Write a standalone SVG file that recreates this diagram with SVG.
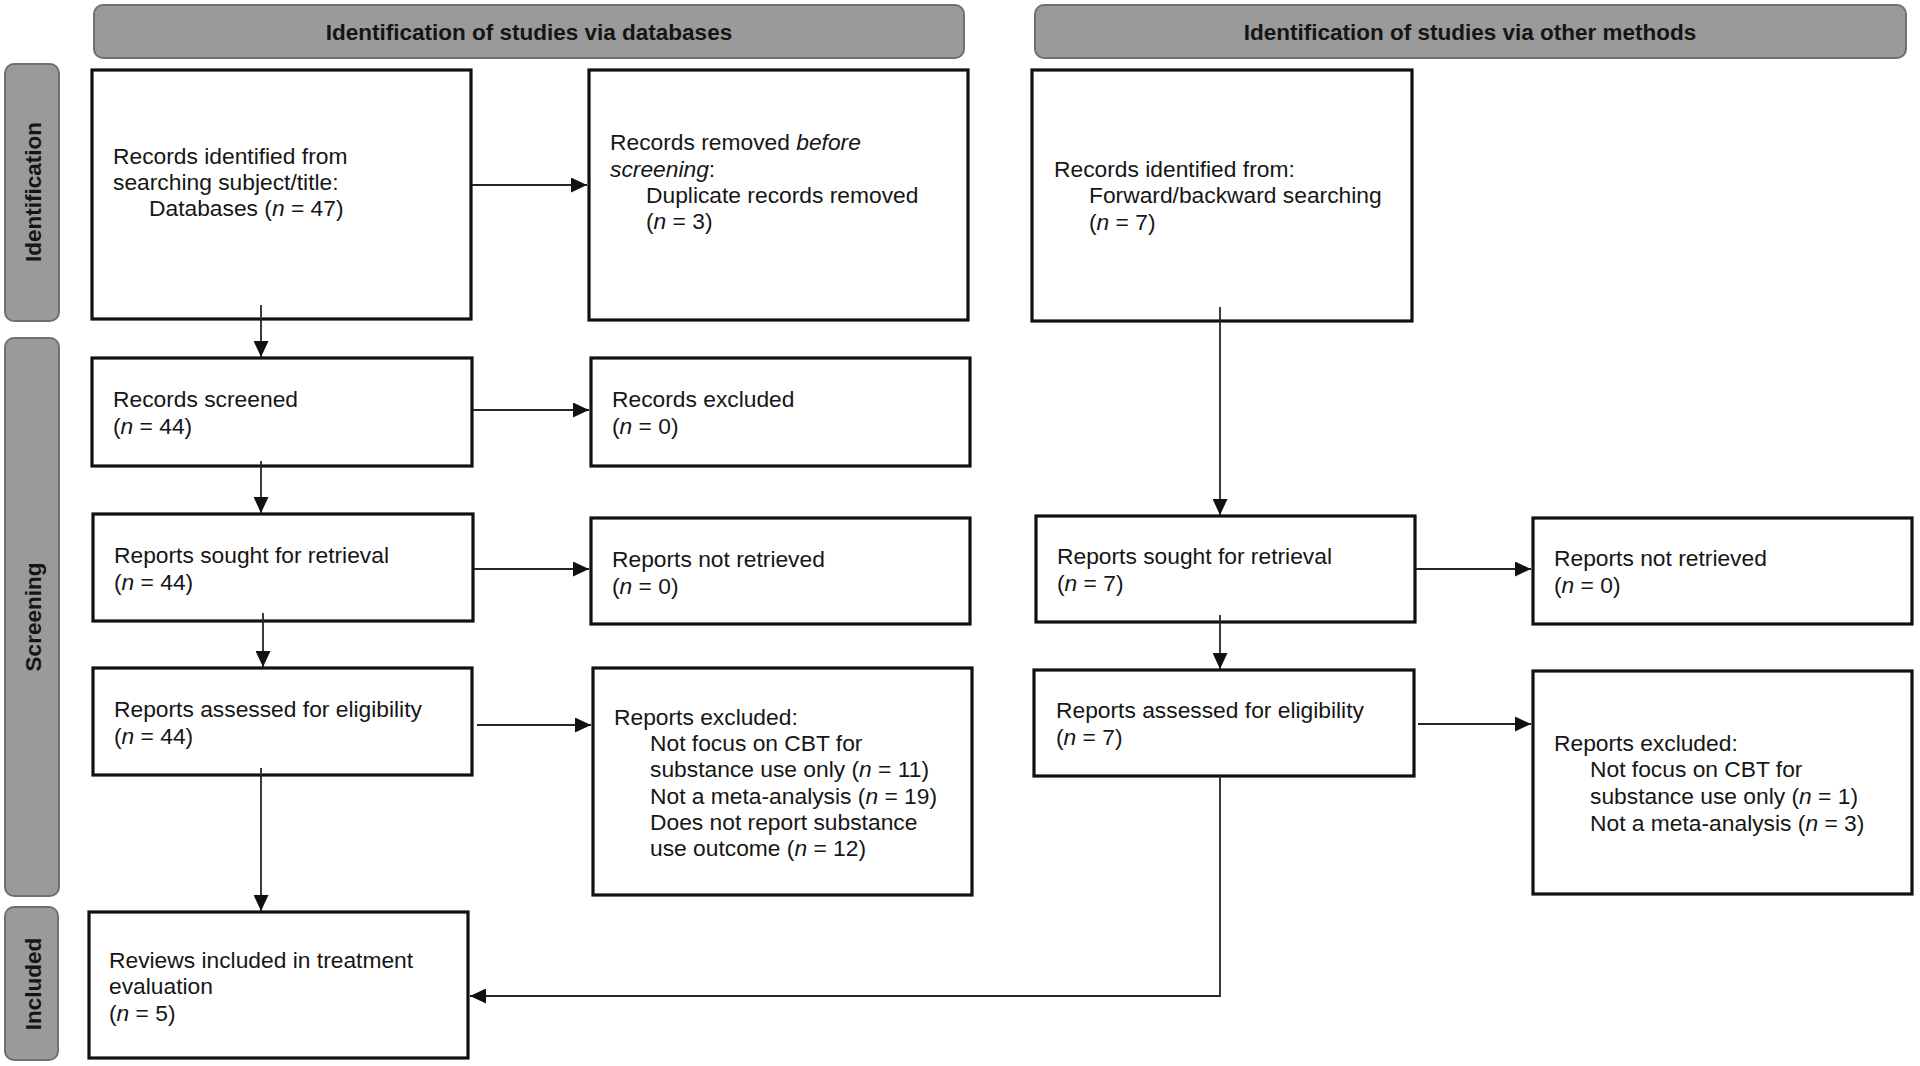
<svg xmlns="http://www.w3.org/2000/svg" width="1920" height="1066" viewBox="0 0 1920 1066">
<style>
.bg{fill:#ffffff}
.hdr{fill:#9a9a9a;stroke:#707070;stroke-width:2}
.box{fill:#ffffff;stroke:#111111;stroke-width:3.2}
.t{font-family:"Liberation Sans",Arial,sans-serif;font-size:22.8px;fill:#161616}
.h{font-family:"Liberation Sans",Arial,sans-serif;font-size:22.5px;font-weight:bold;fill:#151515;text-anchor:middle}
.i{font-style:italic}
.c{fill:none;stroke:#262626;stroke-width:1.8}
</style>
<defs>
<marker id="ah" markerUnits="userSpaceOnUse" markerWidth="16" markerHeight="15" viewBox="0 0 16 15" refX="16" refY="7.5" orient="auto">
<path d="M0,0 L16,7.5 L0,15 Z" fill="#111111"/>
</marker>
</defs>
<rect class="bg" x="0" y="0" width="1920" height="1066"/>

<g id="header-databases">
<rect class="hdr" x="94" y="5" width="870" height="53" rx="9"/>
<text class="h" x="529" y="40">Identification of studies via databases</text>
</g>
<g id="header-other">
<rect class="hdr" x="1035" y="5" width="871" height="53" rx="9"/>
<text class="h" x="1470" y="40">Identification of studies via other methods</text>
</g>

<g id="stage-identification">
<rect class="hdr" x="5" y="64" width="54" height="257" rx="9"/>
<text class="h" transform="translate(41,192) rotate(-90)">Identification</text>
</g>
<g id="stage-screening">
<rect class="hdr" x="5" y="338" width="54" height="558" rx="9"/>
<text class="h" transform="translate(41,617) rotate(-90)">Screening</text>
</g>
<g id="stage-included">
<rect class="hdr" x="5" y="907" width="53" height="153" rx="9"/>
<text class="h" transform="translate(41,984) rotate(-90)">Included</text>
</g>

<g id="records-identified-db">
<rect class="box" x="92" y="70" width="379" height="249"/>
<text class="t" x="113" y="164">Records identified from</text>
<text class="t" x="113" y="190">searching subject/title:</text>
<text class="t" x="149" y="216">Databases (<tspan class="i">n</tspan> = 47)</text>
</g>
<g id="records-removed">
<rect class="box" x="589" y="70" width="379" height="250"/>
<text class="t" x="610" y="150">Records removed <tspan class="i">before</tspan></text>
<text class="t" x="610" y="177"><tspan class="i">screening</tspan>:</text>
<text class="t" x="646" y="203">Duplicate records removed</text>
<text class="t" x="646" y="229">(<tspan class="i">n</tspan> = 3)</text>
</g>
<g id="records-identified-other">
<rect class="box" x="1032" y="70" width="380" height="251"/>
<text class="t" x="1054" y="177">Records identified from:</text>
<text class="t" x="1089" y="203">Forward/backward searching</text>
<text class="t" x="1089" y="230">(<tspan class="i">n</tspan> = 7)</text>
</g>

<g id="records-screened">
<rect class="box" x="92" y="358" width="380" height="108"/>
<text class="t" x="113" y="407">Records screened</text>
<text class="t" x="113" y="434">(<tspan class="i">n</tspan> = 44)</text>
</g>
<g id="records-excluded">
<rect class="box" x="591" y="358" width="379" height="108"/>
<text class="t" x="612" y="407">Records excluded</text>
<text class="t" x="612" y="434">(<tspan class="i">n</tspan> = 0)</text>
</g>

<g id="reports-sought-db">
<rect class="box" x="93" y="514" width="380" height="107"/>
<text class="t" x="114" y="563">Reports sought for retrieval</text>
<text class="t" x="114" y="590">(<tspan class="i">n</tspan> = 44)</text>
</g>
<g id="reports-not-retrieved-db">
<rect class="box" x="591" y="518" width="379" height="106"/>
<text class="t" x="612" y="567">Reports not retrieved</text>
<text class="t" x="612" y="594">(<tspan class="i">n</tspan> = 0)</text>
</g>
<g id="reports-sought-other">
<rect class="box" x="1036" y="516" width="379" height="106"/>
<text class="t" x="1057" y="564">Reports sought for retrieval</text>
<text class="t" x="1057" y="591">(<tspan class="i">n</tspan> = 7)</text>
</g>
<g id="reports-not-retrieved-other">
<rect class="box" x="1533" y="518" width="379" height="106"/>
<text class="t" x="1554" y="566">Reports not retrieved</text>
<text class="t" x="1554" y="593">(<tspan class="i">n</tspan> = 0)</text>
</g>

<g id="reports-assessed-db">
<rect class="box" x="93" y="668" width="379" height="107"/>
<text class="t" x="114" y="717">Reports assessed for eligibility</text>
<text class="t" x="114" y="744">(<tspan class="i">n</tspan> = 44)</text>
</g>
<g id="reports-excluded-db">
<rect class="box" x="593" y="668" width="379" height="227"/>
<text class="t" x="614" y="725">Reports excluded:</text>
<text class="t" x="650" y="751">Not focus on CBT for</text>
<text class="t" x="650" y="777">substance use only (<tspan class="i">n</tspan> = 11)</text>
<text class="t" x="650" y="804">Not a meta-analysis (<tspan class="i">n</tspan> = 19)</text>
<text class="t" x="650" y="830">Does not report substance</text>
<text class="t" x="650" y="856">use outcome (<tspan class="i">n</tspan> = 12)</text>
</g>
<g id="reports-assessed-other">
<rect class="box" x="1034" y="670" width="380" height="106"/>
<text class="t" x="1056" y="718">Reports assessed for eligibility</text>
<text class="t" x="1056" y="745">(<tspan class="i">n</tspan> = 7)</text>
</g>
<g id="reports-excluded-other">
<rect class="box" x="1533" y="671" width="379" height="223"/>
<text class="t" x="1554" y="751">Reports excluded:</text>
<text class="t" x="1590" y="777">Not focus on CBT for</text>
<text class="t" x="1590" y="804">substance use only (<tspan class="i">n</tspan> = 1)</text>
<text class="t" x="1590" y="831">Not a meta-analysis (<tspan class="i">n</tspan> = 3)</text>
</g>

<g id="reviews-included">
<rect class="box" x="89" y="912" width="379" height="146"/>
<text class="t" x="109" y="968">Reviews included in treatment</text>
<text class="t" x="109" y="994">evaluation</text>
<text class="t" x="109" y="1021">(<tspan class="i">n</tspan> = 5)</text>
</g>

<g id="connectors">
<line class="c" x1="472" y1="185" x2="587" y2="185" marker-end="url(#ah)"/>
<line class="c" x1="261" y1="305" x2="261" y2="357" marker-end="url(#ah)"/>
<line class="c" x1="473" y1="410" x2="589" y2="410" marker-end="url(#ah)"/>
<line class="c" x1="261" y1="461" x2="261" y2="513" marker-end="url(#ah)"/>
<line class="c" x1="474" y1="569" x2="589" y2="569" marker-end="url(#ah)"/>
<line class="c" x1="263" y1="613" x2="263" y2="667" marker-end="url(#ah)"/>
<line class="c" x1="477" y1="725" x2="591" y2="725" marker-end="url(#ah)"/>
<line class="c" x1="261" y1="768" x2="261" y2="911" marker-end="url(#ah)"/>
<line class="c" x1="1220" y1="307" x2="1220" y2="515" marker-end="url(#ah)"/>
<line class="c" x1="1416" y1="569" x2="1531" y2="569" marker-end="url(#ah)"/>
<line class="c" x1="1220" y1="615" x2="1220" y2="669" marker-end="url(#ah)"/>
<line class="c" x1="1418" y1="724" x2="1531" y2="724" marker-end="url(#ah)"/>
<path class="c" d="M1220,776 V996 H470" marker-end="url(#ah)"/>
</g>
</svg>
